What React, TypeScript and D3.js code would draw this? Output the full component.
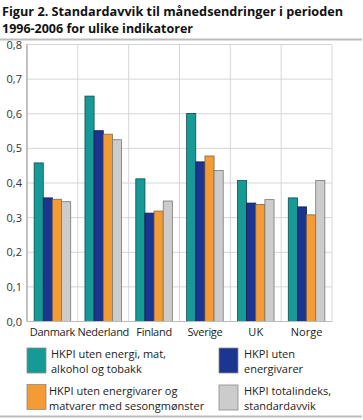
import * as d3 from "d3";

const countries = ["Danmark", "Nederland", "Finland", "Sverige", "UK", "Norge"];
const seriesNames = [
  "HKPI uten energi, mat, alkohol og tobakk",
  "HKPI uten energivarer",
  "HKPI uten energivarer og matvarer med sesongmønster",
  "HKPI totalindeks, standardavvik",
];
const utenEnergiMat = [0.458, 0.651, 0.412, 0.601, 0.407, 0.357];
const utenEnergivarer = [0.357, 0.551, 0.313, 0.461, 0.342, 0.331];
const utenSesong = [0.353, 0.541, 0.319, 0.478, 0.338, 0.308];
const totalindeks = [0.346, 0.525, 0.348, 0.436, 0.352, 0.407];
const yTicks = [0, 0.1, 0.2, 0.3, 0.4, 0.5, 0.6, 0.7, 0.8];

const fills = ["#169a97", "#1b3591", "#f59b33", "#cccccc"];
const strokes = ["#0b4f4d", "#0d1a4a", "#7a6a55", "#777777"];

const legendLines = [
  ["HKPI uten energi, mat,", "alkohol og tobakk"],
  ["HKPI uten", "energivarer"],
  ["HKPI uten energivarer og", "matvarer med sesongmønster"],
  ["HKPI totalindeks,", "standardavvik"],
];

export default function App() {
  const W = 363;
  const H = 420;
  const left = 27;
  const right = 332;
  const top = 44.5;
  const bottom = 321.5;
  const font = "'Open Sans', 'DejaVu Sans', sans-serif";

  const series = [utenEnergiMat, utenEnergivarer, utenSesong, totalindeks];

  const x = d3.scaleBand<string>().domain(countries).range([left, right]).paddingInner(0).paddingOuter(0);
  const inner = d3
    .scaleBand<number>()
    .domain([0, 1, 2, 3])
    .range([0, x.bandwidth()])
    .paddingOuter(0.78)
    .paddingInner(0);
  const y = d3.scaleLinear().domain([0, 0.8]).range([bottom, top]);
  const fmt = (v: number) => d3.format(".1f")(v).replace(".", ",");

  const legendPos = [
    { x: 27, y: 348, tx: 51 },
    { x: 219, y: 348, tx: 244 },
    { x: 27, y: 384.5, tx: 49 },
    { x: 219, y: 385, tx: 244 },
  ];

  return (
    <svg width={W} height={H} style={{ position: "absolute", left: 0, top: 0 }} fontFamily={font}>
      <rect width={W} height={H} fill="#fff" />
      <text x={2} y={15.5} fontSize={13} fontWeight="bold" fill="#111" textLength={341} lengthAdjust="spacingAndGlyphs">
        Figur 2. Standardavvik til månedsendringer i perioden
      </text>
      <text x={2} y={32.5} fontSize={13} fontWeight="bold" fill="#111" textLength={191} lengthAdjust="spacingAndGlyphs">
        1996-2006 for ulike indikatorer
      </text>
      <line x1={0} x2={362} y1={39.5} y2={39.5} stroke="#bdbdbd" strokeWidth={2} />

      {/* gridlines */}
      {yTicks.map((t) => (
        <g key={t}>
          <line x1={left} x2={right} y1={y(t)} y2={y(t)} stroke="#d6d6d6" strokeWidth={1} />
          <text x={22} y={y(t) + 4} fontSize={11} textAnchor="end" fill="#333">
            {fmt(t)}
          </text>
        </g>
      ))}
      {countries.map((c) => (
        <line key={c} x1={x(c)!} x2={x(c)!} y1={top} y2={bottom} stroke="#d6d6d6" />
      ))}
      <line x1={right} x2={right} y1={top} y2={bottom} stroke="#d6d6d6" />

      {/* bars */}
      {countries.map((c, ci) => (
        <g key={c}>
          {series.map((s, si) => (
            <rect
              key={si}
              x={x(c)! + inner(si)!}
              y={y(s[ci])}
              width={inner.bandwidth()}
              height={bottom - y(s[ci])}
              fill={fills[si]}
              stroke={strokes[si]}
              strokeWidth={0.8}
            />
          ))}
          <text
            x={x(c)! + x.bandwidth() / 2}
            y={336}
            fontSize={11}
            textAnchor="middle"
            fill="#222"
            letterSpacing={c.length > 6 ? -0.3 : 0}
          >
            {c}
          </text>
        </g>
      ))}
      <line x1={left} x2={left} y1={top} y2={bottom} stroke="#999" />
      <line x1={left} x2={right} y1={bottom} y2={bottom} stroke="#bbb" />

      {/* legend */}
      {seriesNames.map((name, i) => (
        <g key={name}>
          <rect
            x={legendPos[i].x}
            y={legendPos[i].y}
            width={19}
            height={25}
            fill={fills[i]}
            stroke="#8a8a8a"
            strokeWidth={0.8}
          />
          {legendLines[i].map((l, li) => (
            <text key={li} x={legendPos[i].tx} y={legendPos[i].y + 10 + li * 15} fontSize={11} fill="#222">
              {l}
            </text>
          ))}
        </g>
      ))}
      <line x1={0} x2={362} y1={416.5} y2={416.5} stroke="#bdbdbd" strokeWidth={2} />
    </svg>
  );
}
